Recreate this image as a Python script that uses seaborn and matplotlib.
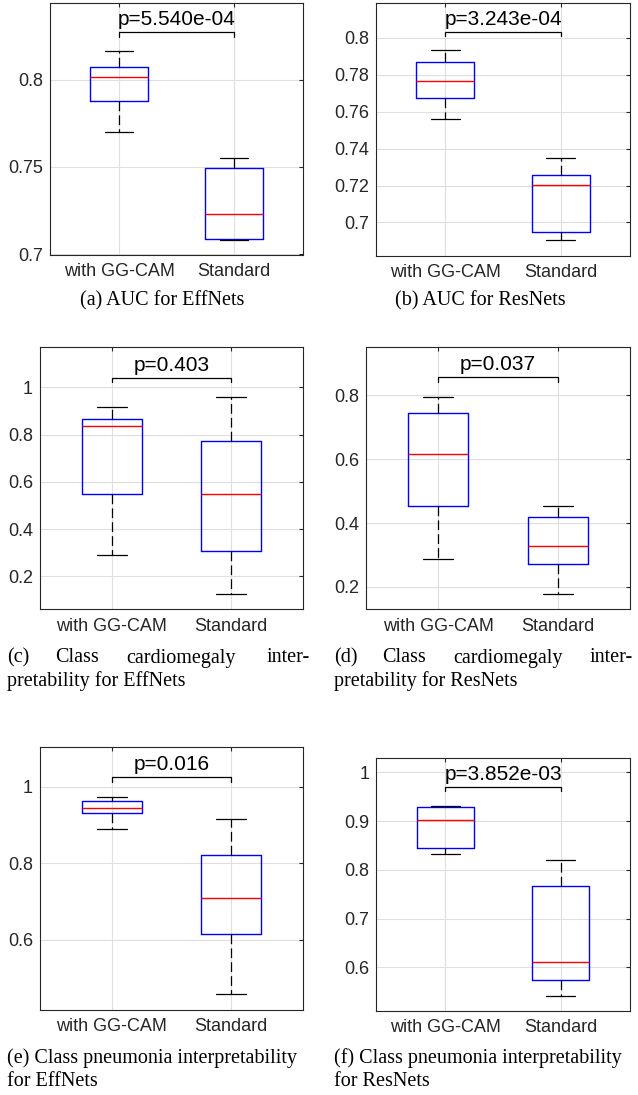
import numpy as np
import pandas as pd
import matplotlib
matplotlib.use("Agg")
import matplotlib.pyplot as plt
import seaborn as sns
from matplotlib.ticker import FuncFormatter

# ---------------- data ----------------
groups = ["with GG-CAM", "Standard"]

# five-number summaries per group: [min, Q1, median, Q3, max]
auc_eff_gg = [0.770, 0.7876, 0.8015, 0.8074, 0.8166]
auc_eff_std = [0.708, 0.7086, 0.7229, 0.7493, 0.755]
auc_res_gg = [0.756, 0.7672, 0.7766, 0.787, 0.7932]
auc_res_std = [0.6906, 0.6946, 0.7205, 0.7257, 0.7348]
card_eff_gg = [0.288, 0.547, 0.836, 0.867, 0.918]
card_eff_std = [0.124, 0.309, 0.548, 0.775, 0.959]
card_res_gg = [0.2876, 0.4526, 0.617, 0.7437, 0.7956]
card_res_std = [0.179, 0.271, 0.3283, 0.420, 0.4526]
pneu_eff_gg = [0.890, 0.931, 0.945, 0.962, 0.973]
pneu_eff_std = [0.4583, 0.6157, 0.709, 0.8226, 0.9165]
pneu_res_gg = [0.833, 0.844, 0.9028, 0.930, 0.931]
pneu_res_std = [0.541, 0.5733, 0.6115, 0.7674, 0.8195]

p_labels = ["p=5.540e-04", "p=3.243e-04", "p=0.403", "p=0.037", "p=0.016", "p=3.852e-03"]
bracket_levels = [0.827, 0.8032, 1.042, 0.856, 1.0245, 0.970]

y_limits = [(0.6995, 0.844), (0.682, 0.819), (0.06, 1.17),
            (0.13, 0.95), (0.417, 1.103), (0.511, 1.029)]
y_ticks = [[0.7, 0.75, 0.8],
           [0.7, 0.72, 0.74, 0.76, 0.78, 0.8],
           [0.2, 0.4, 0.6, 0.8, 1.0],
           [0.2, 0.4, 0.6, 0.8],
           [0.6, 0.8, 1.0],
           [0.6, 0.7, 0.8, 0.9, 1.0]]

panels = [(auc_eff_gg, auc_eff_std), (auc_res_gg, auc_res_std),
          (card_eff_gg, card_eff_std), (card_res_gg, card_res_std),
          (pneu_eff_gg, pneu_eff_std), (pneu_res_gg, pneu_res_std)]

# ---------------- figure ----------------
sns.set_style("white")
plt.rcParams["font.family"] = ["Liberation Sans", "DejaVu Sans"]
plt.rcParams["lines.scale_dashes"] = False

W, H = 638, 1095
fig = plt.figure(figsize=(W / 100, H / 100), dpi=100)

# axes boxes in pixels: left, right, top, bottom
ax_px = [(50, 303, 2.7, 255), (376, 630, 2.7, 255.7),
         (40, 303, 347.3, 609.3), (366.3, 629.7, 347.3, 609.3),
         (40, 303, 747.3, 1010), (376.3, 629.7, 758.3, 1010.7)]

dark = "#262626"
fmt = FuncFormatter(lambda v, pos: f"{v:g}")

for i, (l, r, t, b) in enumerate(ax_px):
    ax = fig.add_axes([l / W, 1 - b / H, (r - l) / W, (b - t) / H])
    gg, std = panels[i]
    df = pd.DataFrame({"group": np.repeat(groups, [len(gg), len(std)]),
                       "value": list(gg) + list(std)})
    sns.boxplot(data=df, x="group", y="value", order=groups, ax=ax,
                width=0.5, whis=(0, 100), fill=False, color="blue",
                linecolor="blue", linewidth=1.0, showfliers=False,
                boxprops=dict(color="blue", linewidth=1.0),
                medianprops=dict(color="red", linewidth=1.0),
                whiskerprops=dict(color="black", linestyle=(0, (7, 3)), linewidth=0.9),
                capprops=dict(color="black", linewidth=0.9))
    ax.set_xlabel("")
    ax.set_ylabel("")
    ax.set_xlim(-0.6, 1.6)
    ax.set_ylim(*y_limits[i])
    ax.set_yticks(y_ticks[i])
    ax.yaxis.set_major_formatter(fmt)
    ax.set_xticks([0, 1])
    ax.set_xticklabels(groups)
    ax.grid(True, color="#dfdfdf", linewidth=0.8)
    ax.set_axisbelow(True)
    for s in ax.spines.values():
        s.set_visible(True)
        s.set_color(dark)
        s.set_linewidth(0.8)
    ax.tick_params(direction="in", length=3, width=0.8, top=True, right=True,
                   color=dark, labelcolor=dark, labelsize=13)
    ax.tick_params(axis="y", pad=5)
    ax.tick_params(axis="x", pad=6)

    # significance bracket
    y0, y1 = y_limits[i]
    drop = 4.3 * (y1 - y0) / (b - t)
    yb = bracket_levels[i]
    ax.plot([0, 0, 1, 1], [yb - drop, yb, yb, yb - drop], color="black",
            linewidth=0.9, solid_joinstyle="miter")
    ax.annotate(p_labels[i], xy=(0.5, yb), xytext=(0, 5.0), textcoords="offset points",
                ha="center", va="baseline", fontsize=15, color="black")

# ---------------- captions ----------------
serif = dict(family=["Liberation Serif", "DejaVu Serif"], fontsize=14.5, color="black")

def px_text(x, y, s, ha="left"):
    fig.text(x / W, 1 - y / H, s, ha=ha, va="center", **serif)

px_text(162.5, 301, "(a) AUC for EffNets", ha="center")
px_text(480.5, 301, "(b) AUC for ResNets", ha="center")

# justified two-line captions
for lab, x0, xc, xcard, xend, second in [("(c)", 7, 55, 126, 310, "pretability for EffNets"),
                                         ("(d)", 334, 382, 453, 633, "pretability for ResNets")]:
    y = 658
    px_text(x0, y, lab)
    px_text(xc, y, "Class")
    px_text(xcard, y, "cardiomegaly")
    px_text(xend, y, "inter-", ha="right")
    px_text(x0, y + 23, second)

px_text(7, 1058, "(e) Class pneumonia interpretability")
px_text(7, 1081, "for EffNets")
px_text(334, 1058, "(f) Class pneumonia interpretability")
px_text(334, 1081, "for ResNets")

fig.savefig("out.png", dpi=100)
